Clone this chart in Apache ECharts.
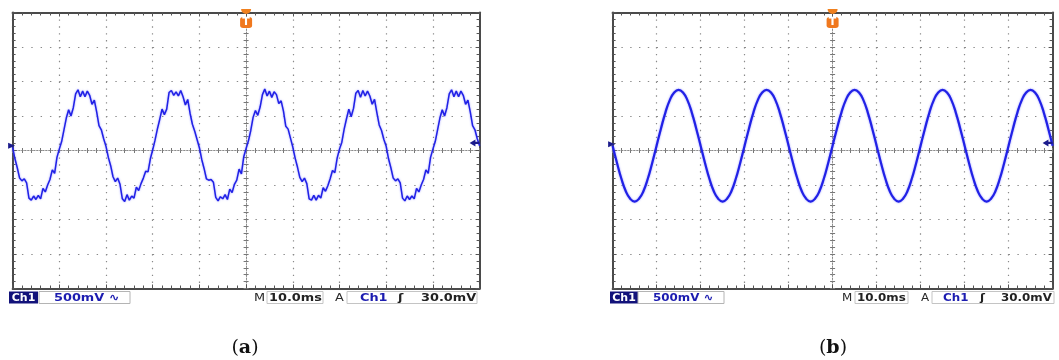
<!DOCTYPE html>
<html>
<head>
<meta charset="utf-8">
<title>Scope traces (a) and (b)</title>
<script src="https://cdn.jsdelivr.net/npm/echarts@6/dist/echarts.min.js"></script>
<style>
  html, body { margin: 0; padding: 0; background: #fff; }
  #chart { width: 1059px; height: 360px; }
</style>
</head>
<body>
<div id="chart"></div>
<script>
// screen: 10 div x 10 ms, 8 div x 500 mV
const timeRange = [-50, 50];
const timeDiv = 10;
const voltRange = [-2, 2];
const voltDiv = 0.5;

// trace (a): distorted / stepped wave, one sample each 0.5 ms from -50 ms
const startA = -50, stepA = 0.5;
const voltsA = [
  0.05, -0.12, -0.25, -0.40, -0.44, -0.41, -0.47, -0.69, -0.72, -0.66, -0.71, -0.65, -0.70, -0.55, -0.60, -0.50, -0.42, -0.28, -0.33, -0.10,
  0.02, 0.13, 0.30, 0.47, 0.59, 0.50, 0.62, 0.82, 0.88, 0.78, 0.86, 0.78, 0.86, 0.80, 0.67, 0.73, 0.56, 0.36, 0.30, 0.17,
  0.06, -0.10, -0.22, -0.38, -0.45, -0.40, -0.49, -0.70, -0.74, -0.64, -0.72, -0.66, -0.69, -0.53, -0.58, -0.48, -0.40, -0.30, -0.31, -0.12,
  0.01, 0.15, 0.31, 0.45, 0.60, 0.52, 0.60, 0.84, 0.87, 0.80, 0.85, 0.79, 0.87, 0.78, 0.66, 0.74, 0.54, 0.38, 0.28, 0.16,
  0.04, -0.13, -0.26, -0.41, -0.43, -0.42, -0.46, -0.68, -0.73, -0.67, -0.70, -0.64, -0.71, -0.56, -0.61, -0.49, -0.43, -0.27, -0.34, -0.09,
  0.03, 0.14, 0.29, 0.48, 0.58, 0.51, 0.63, 0.81, 0.89, 0.79, 0.86, 0.77, 0.85, 0.81, 0.68, 0.72, 0.57, 0.35, 0.31, 0.18,
  0.05, -0.11, -0.24, -0.39, -0.45, -0.40, -0.48, -0.70, -0.72, -0.65, -0.72, -0.65, -0.69, -0.54, -0.59, -0.51, -0.41, -0.29, -0.32, -0.11,
  0.02, 0.12, 0.31, 0.46, 0.60, 0.49, 0.61, 0.83, 0.87, 0.77, 0.87, 0.79, 0.86, 0.79, 0.67, 0.74, 0.55, 0.37, 0.29, 0.16,
  0.06, -0.12, -0.25, -0.40, -0.44, -0.41, -0.47, -0.69, -0.73, -0.66, -0.71, -0.66, -0.70, -0.55, -0.60, -0.50, -0.42, -0.28, -0.33, -0.10,
  0.02, 0.13, 0.30, 0.47, 0.59, 0.50, 0.62, 0.82, 0.88, 0.78, 0.86, 0.78, 0.86, 0.80, 0.67, 0.73, 0.56, 0.36, 0.30, 0.17,
  0.07
];

// trace (b): clean sine, one sample each 1 ms from -50 ms
const startB = -50, stepB = 1;
const voltsB = [
  0.07, -0.18, -0.41, -0.59, -0.70, -0.74, -0.70, -0.59, -0.41, -0.18, 0.07, 0.32, 0.55, 0.73, 0.84, 0.88, 0.84, 0.73, 0.55, 0.32,
  0.07, -0.18, -0.41, -0.59, -0.70, -0.74, -0.70, -0.59, -0.41, -0.18, 0.07, 0.32, 0.55, 0.73, 0.84, 0.88, 0.84, 0.73, 0.55, 0.32,
  0.07, -0.18, -0.41, -0.59, -0.70, -0.74, -0.70, -0.59, -0.41, -0.18, 0.07, 0.32, 0.55, 0.73, 0.84, 0.88, 0.84, 0.73, 0.55, 0.32,
  0.07, -0.18, -0.41, -0.59, -0.70, -0.74, -0.70, -0.59, -0.41, -0.18, 0.07, 0.32, 0.55, 0.73, 0.84, 0.88, 0.84, 0.73, 0.55, 0.32,
  0.07, -0.18, -0.41, -0.59, -0.70, -0.74, -0.70, -0.59, -0.41, -0.18, 0.07, 0.32, 0.55, 0.73, 0.84, 0.88, 0.84, 0.73, 0.55, 0.32,
  0.07
];

// markers: trigger time, channel ground level, trigger level
const triggerTime = 0;
const groundLevel = [0.07, 0.09];
const triggerLevel = [0.11, 0.11];

const statusTexts = ['Ch1', '500mV \u223F', 'M', '10.0ms', 'A', 'Ch1', '\u0283', '30.0mV'];
const captions = ['a', 'b'];

const panels = [
  {left: 12.6, top: 12.5, width: 467, height: 276},
  {left: 612.6, top: 12.5, width: 440, height: 276}
];
// x positions of status bar pieces, and horizontal stretch of the scope font
const statusPos = [
  {ch: [9, 29], scale: [39, 91, 54], m: 254, time: [267, 56, 269], a: 335, trig: [347, 130, 360, 398, 421], cap: 245, sx: 1.17},
  {ch: [610, 28], scale: [638, 86, 653], m: 842, time: [855, 53, 857], a: 921, trig: [932, 122, 943, 980, 1001], cap: 833, sx: 1.08}
];

const chart = echarts.init(document.getElementById('chart'));

const tickColor = '#555';
function makeAxes(gi, dim) {
  const p = panels[gi];
  const isX = dim === 'x';
  const range = isX ? timeRange : voltRange;
  const div = isX ? timeDiv : voltDiv;
  const half = isX ? p.height / 2 : p.width / 2;
  const minorPx = isX ? p.height / 40 : p.width / 50;
  const base = {
    type: 'value', gridIndex: gi, min: range[0], max: range[1], interval: div,
    axisLabel: {show: false}, splitLine: {show: false}, silent: true
  };
  const border = {show: true, onZero: false, lineStyle: {color: '#4a4a4a', width: 2}};
  const tick = {show: true, inside: true, length: 4, lineStyle: {color: tickColor, width: 1}};
  const minor = {show: true, splitNumber: 5, length: 3, lineStyle: {color: tickColor, width: 1}};
  const centerLine = {show: true, onZero: false, lineStyle: {color: '#8c8c8c', width: 1, type: [1.5, 1.5]}};
  const cTick = (inside) => ({show: true, inside, length: 2.5, lineStyle: {color: '#777', width: 1}});
  const cMinor = {show: true, splitNumber: 5, length: 2.5, lineStyle: {color: '#777', width: 1}};
  const pos = isX ? ['bottom', 'top'] : ['left', 'right'];
  return [
    Object.assign({}, base, {position: pos[0], axisLine: border, axisTick: tick, minorTick: minor,
      splitLine: {show: true, lineStyle: {color: '#8a8a8a', width: 1.2, type: [1.4, minorPx - 1.4]}}}),
    Object.assign({}, base, {position: pos[1], axisLine: border, axisTick: tick, minorTick: minor}),
    Object.assign({}, base, {position: pos[0], offset: -half, axisLine: centerLine, axisTick: cTick(true), minorTick: cMinor}),
    Object.assign({}, base, {position: pos[0], offset: -half, axisLine: {show: false}, axisTick: cTick(false), minorTick: cMinor})
  ];
}

function makeSeries(gi, start, step, volts, width) {
  return {
    type: 'line',
    xAxisIndex: gi * 4,
    yAxisIndex: gi * 4,
    data: volts.map((v, i) => [start + i * step, v]),
    showSymbol: false,
    smooth: gi === 1 ? 0.5 : false,
    animation: false,
    lineStyle: {color: '#2121e6', width, shadowColor: 'rgba(100,100,255,0.7)', shadowBlur: 2},
    markPoint: {
      silent: true,
      animation: false,
      label: {show: false},
      data: [
        {coord: [triggerTime, voltRange[1]], symbol: 'path://M0,0 A5,5 0 0 0 10,0 Z', symbolSize: [10, 5],
          symbolOffset: [0, -1], itemStyle: {color: '#f0801e'}},
        {coord: [triggerTime, voltRange[1]], symbol: 'roundRect', symbolSize: [12, 11], symbolOffset: [0, 10],
          itemStyle: {color: '#f0781e'},
          label: {show: true, position: 'inside', formatter: 'T', color: '#fff', fontWeight: 'bold', fontSize: 11,
            fontFamily: 'DejaVu Sans'}},
        {coord: [timeRange[0], groundLevel[gi]], symbol: 'triangle', symbolRotate: -90, symbolSize: [6, 7],
          symbolOffset: [-1, 0], itemStyle: {color: '#1b1b8c'}},
        {coord: [timeRange[1], triggerLevel[gi]],
          symbol: 'path://M0,5 L7,0 L7,3.5 L12,3.5 L12,6.5 L7,6.5 L7,10 Z', symbolSize: [10, 7],
          symbolOffset: [-5, 0], itemStyle: {color: '#1b1b8c'}}
      ]
    }
  };
}

const statusFont = {fontFamily: 'DejaVu Sans', fontSize: 11, fontWeight: 'bold'};
function statusBar(gi) {
  const s = statusPos[gi];
  const y = 291.5, h = 12, mid = y + h / 2 + 0.5;
  const txt = (x, text, fill, extra, sx) => ({
    type: 'text', x, y: mid, silent: true, scaleX: sx || s.sx,
    style: Object.assign({text, fill, verticalAlign: 'middle', textAlign: 'left'}, statusFont, extra || {})
  });
  const box = (x, w, fill, stroke) => ({
    type: 'rect', silent: true, shape: {x, y, width: w, height: h},
    style: {fill, stroke: stroke || null, lineWidth: 1}
  });
  return [
    box(s.ch[0], s.ch[1], '#12127a'),
    txt(s.ch[0] + s.ch[1] / 2, statusTexts[0], '#fff', {textAlign: 'center'}, 1.0),
    box(s.scale[0], s.scale[1], '#fff', '#b4b4b4'),
    txt(s.scale[2], statusTexts[1], '#1c1cb0'),
    txt(s.m, statusTexts[2], '#2a2a2a', {fontWeight: 'normal'}),
    box(s.time[0], s.time[1], '#fff', '#c4c4c4'),
    txt(s.time[2], statusTexts[3], '#222'),
    txt(s.a, statusTexts[4], '#2a2a2a', {fontWeight: 'normal'}),
    box(s.trig[0], s.trig[1], '#fff', '#c4c4c4'),
    txt(s.trig[2], statusTexts[5], '#1c1cb0'),
    txt(s.trig[3], statusTexts[6], '#222'),
    txt(s.trig[4], statusTexts[7], '#222'),
    {
      type: 'text', x: s.cap, y: 348, silent: true,
      style: {
        text: '{p|(}{b|' + captions[gi] + '}{p|)}',
        textAlign: 'center', verticalAlign: 'middle',
        rich: {
          p: {fontFamily: 'DejaVu Serif', fontSize: 19, fill: '#111'},
          b: {fontFamily: 'DejaVu Serif', fontSize: 19, fontWeight: 'bold', fill: '#111'}
        }
      }
    }
  ];
}

chart.setOption({
  animation: false,
  backgroundColor: '#fff',
  grid: panels.map(p => ({left: p.left, top: p.top, width: p.width, height: p.height})),
  xAxis: [].concat(makeAxes(0, 'x'), makeAxes(1, 'x')),
  yAxis: [].concat(makeAxes(0, 'y'), makeAxes(1, 'y')),
  series: [
    makeSeries(0, startA, stepA, voltsA, 1.5),
    makeSeries(1, startB, stepB, voltsB, 2.2)
  ],
  graphic: [].concat(statusBar(0), statusBar(1))
});
</script>
</body>
</html>
